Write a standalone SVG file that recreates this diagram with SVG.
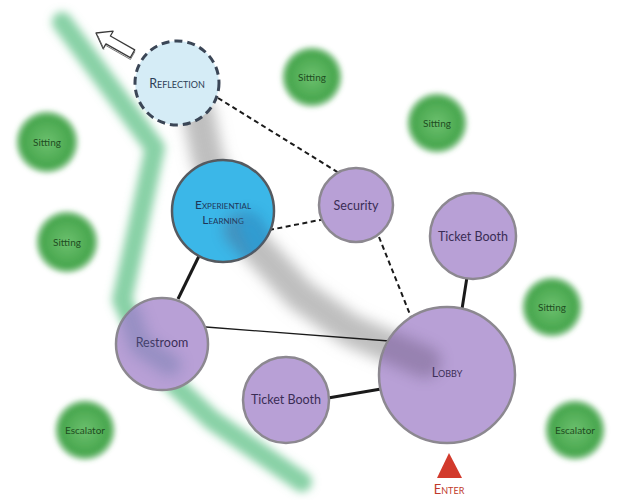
<svg xmlns="http://www.w3.org/2000/svg" width="620" height="500" viewBox="0 0 620 500">
<defs>
<style>
.lbl{font-family:Lato,"Open Sans","Noto Sans",sans-serif;text-anchor:middle;dominant-baseline:central}
.pl{fill:#3a2d55;font-size:12.5px}
.sc{font-variant:small-caps}
.gr{fill:#1f4d22;font-size:10px}
.room{fill:#b8a0d6;stroke:#8c8890;stroke-width:2.5}
.sit{fill:url(#gg);filter:url(#fz)}
.solid{stroke:#1a1a1a;fill:none}
.dash{stroke:#1a1a1a;stroke-width:2;stroke-dasharray:5 3.5;fill:none}
</style>
<radialGradient id="gg">
<stop offset="0" stop-color="#6cc06e"/>
<stop offset="0.78" stop-color="#47a64d"/>
<stop offset="1" stop-color="#47a64d" stop-opacity="0.25"/>
</radialGradient>
<filter id="fz" x="-30%" y="-30%" width="160%" height="160%"><feGaussianBlur stdDeviation="2.2"/></filter>
<filter id="bl" filterUnits="userSpaceOnUse" x="0" y="0" width="620" height="500"><feGaussianBlur stdDeviation="4"/></filter>
<filter id="bl2" filterUnits="userSpaceOnUse" x="0" y="0" width="620" height="500"><feGaussianBlur stdDeviation="7"/></filter>
<clipPath id="cl"><circle cx="447" cy="375" r="67"/><circle cx="223" cy="211" r="51"/><circle cx="162" cy="344" r="46"/></clipPath>
</defs>
<rect width="620" height="500" fill="#ffffff"/>
<!-- green band -->
<path d="M62,22 L155,148 L122,300 L150,362 L212,420 L302,482" fill="none" stroke="#6cc690" stroke-width="20" stroke-opacity="0.8" stroke-linejoin="round" stroke-linecap="round" filter="url(#bl)"/>
<!-- gray smudge -->
<path d="M198,112 L208,160 L240,230 L300,295 L350,330 L420,360" fill="none" stroke="#a4a4a4" stroke-width="32" stroke-opacity="0.7" stroke-linejoin="round" stroke-linecap="round" filter="url(#bl2)"/>
<!-- sitting / escalator -->
<g id="sitting1"><circle class="sit" cx="312" cy="77" r="31"/><text class="lbl gr" x="312" y="77">Sitting</text></g>
<g id="sitting2"><circle class="sit" cx="437" cy="123" r="31"/><text class="lbl gr" x="437" y="123">Sitting</text></g>
<g id="sitting3"><circle class="sit" cx="47" cy="142" r="32"/><text class="lbl gr" x="47" y="142">Sitting</text></g>
<g id="sitting4"><circle class="sit" cx="67" cy="242" r="32"/><text class="lbl gr" x="67" y="242">Sitting</text></g>
<g id="sitting5"><circle class="sit" cx="552" cy="307" r="31"/><text class="lbl gr" x="552" y="307">Sitting</text></g>
<g id="escalator1"><circle class="sit" cx="85" cy="430" r="31"/><text class="lbl gr" x="85" y="430">Escalator</text></g>
<g id="escalator2"><circle class="sit" cx="575" cy="430" r="31"/><text class="lbl gr" x="575" y="430">Escalator</text></g>
<!-- exit arrow -->
<g id="exit-arrow" transform="translate(96,33) rotate(29.6)">
<path d="M0,0 L14,-10 L14,-4.5 L42,-4.5 L42,4.5 L14,4.5 L14,10 Z" fill="#ffffff" stroke="#3a3a3a" stroke-width="1.3" stroke-linejoin="round"/>
<path d="M3,1.5 L15,10.5 M15,6 L43,6 L43,-3" fill="none" stroke="#666" stroke-width="0.8"/>
</g>
<!-- connectors -->
<g id="connectors">
<line class="dash" x1="218" y1="98" x2="339" y2="173"/>
<line class="dash" x1="269" y1="230" x2="325" y2="219"/>
<line class="dash" x1="379" y1="237" x2="411" y2="317"/>
<line class="solid" stroke-width="3" x1="199" y1="256" x2="178" y2="299"/>
<line class="solid" stroke-width="1.3" x1="206" y1="327" x2="389" y2="341"/>
<line class="solid" stroke-width="3" x1="328" y1="398" x2="381" y2="389"/>
<line class="solid" stroke-width="3" x1="467" y1="277" x2="462" y2="309"/>
</g>
<!-- nodes -->
<g id="reflection"><circle cx="177" cy="83" r="42" fill="#d5ecf6" stroke="#3b4656" stroke-width="3" stroke-dasharray="8 5"/><text class="lbl sc" x="177" y="83" fill="#2c3d55" font-size="12.5">Reflection</text></g>
<g id="experiential-learning"><circle cx="223" cy="211" r="51" fill="#3bb7e8" stroke="#555a60" stroke-width="2.5"/><text class="lbl sc" x="223" y="204" fill="#1f3658" font-size="12">Experiential</text><text class="lbl sc" x="223" y="219" fill="#1f3658" font-size="12">Learning</text></g>
<g id="security"><circle class="room" cx="356" cy="205" r="37"/><text class="lbl pl" x="356" y="205">Security</text></g>
<g id="ticket-booth-1"><circle class="room" cx="473" cy="236" r="43"/><text class="lbl pl" x="473" y="236">Ticket Booth</text></g>
<g id="restroom"><circle class="room" cx="162" cy="344" r="46"/><text class="lbl pl" x="162" y="342">Restroom</text></g>
<g id="ticket-booth-2"><circle class="room" cx="286" cy="400" r="43"/><text class="lbl pl" x="286" y="399">Ticket Booth</text></g>
<g id="lobby"><circle class="room" cx="447" cy="375" r="68"/><text class="lbl sc pl" x="447" y="372" font-size="14">Lobby</text></g>
<!-- shading over nodes -->
<g clip-path="url(#cl)" opacity="0.35">
<path d="M240,230 L300,295 L350,330 L425,362" fill="none" stroke="#5a4a6a" stroke-width="32" stroke-linecap="round" filter="url(#bl2)"/>
<path d="M128,310 L140,345 L170,365" fill="none" stroke="#5a70a0" stroke-width="22" stroke-linecap="round" filter="url(#bl2)"/>
<path d="M250,225 L265,260" fill="none" stroke="#1a6aa8" stroke-width="24" stroke-linecap="round" filter="url(#bl2)"/>
</g>
<!-- enter -->
<g id="enter"><path d="M449,453 L462,478 L437,478 Z" fill="#d23a2c"/><text class="lbl sc" x="449" y="489" fill="#c0392b" font-size="13">Enter</text></g>
</svg>
